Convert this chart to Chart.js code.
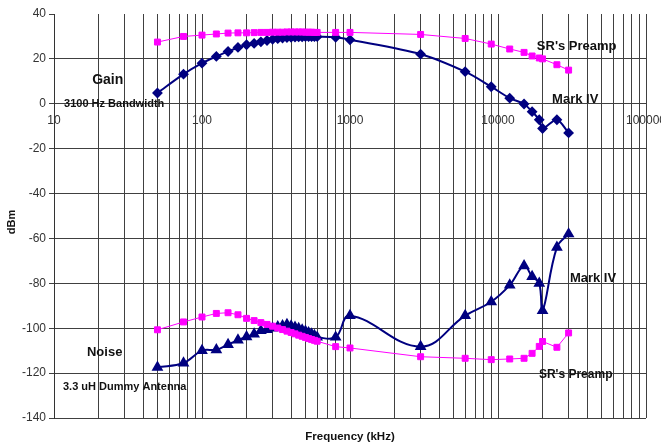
<!DOCTYPE html>
<html>
<head>
<meta charset="utf-8">
<script src="https://cdn.jsdelivr.net/npm/chart.js@4"></script>
<style>
  body { margin: 0; background: #fff; }
  canvas { display: block; }
</style>
</head>
<body>
<canvas id="grafico" width="661" height="445"></canvas>
<script>
// frequencias medidas (kHz)
var freq = [50, 75, 100, 125, 150, 175, 200, 225, 250, 275, 300, 325, 350, 375, 400, 425, 450, 475, 500, 525, 550, 575, 600,
            800, 1000, 3000, 6000, 9000, 12000, 15000, 17000, 19000, 20000, 25000, 30000];

// ganho (dBm)
var gainSR = [27.5, 30.0, 30.6, 31.1, 31.5, 31.6, 31.6, 31.7, 31.8, 31.8, 31.9, 31.9, 31.9, 32.0, 32.0, 32.0, 32.0, 32.0, 31.9, 31.9, 31.9, 31.8, 31.8,
              31.8, 31.8, 30.9, 29.1, 26.6, 24.4, 22.9, 21.3, 20.4, 20.0, 17.4, 15.0];
var gainMk = [4.8, 13.2, 18.1, 21.1, 23.3, 25.1, 26.3, 26.9, 27.6, 28.2, 28.7, 29.0, 29.3, 29.5, 29.6, 29.7, 29.8, 29.8, 29.9, 29.9, 29.9, 29.9, 29.9,
              29.6, 28.5, 22.1, 14.3, 7.6, 2.5, -0.1, -3.5, -7.1, -11.0, -7.1, -13.0];

// ruido (dBm)
var noiseSR = [-100.7, -97.2, -95.0, -93.4, -93.1, -94.0, -95.6, -96.6, -97.5, -98.3, -99.1, -99.9, -100.6, -101.3, -101.9, -102.5, -103.1, -103.6, -104.1, -104.6, -105.0, -105.4, -105.8,
               -108.2, -108.8, -112.7, -113.4, -114.0, -113.7, -113.4, -111.2, -108.1, -105.9, -108.5, -102.1];
var noiseMk = [-117.4, -115.5, -110.0, -109.6, -107.3, -105.3, -103.8, -102.6, -101.1, -100.6, -100.0, -99.4, -98.9, -98.4, -99.0, -99.6, -100.2, -100.8, -101.4, -102.0, -102.6, -103.3, -104.0,
               -104.0, -94.4, -108.2, -94.4, -88.2, -80.8, -72.2, -77.0, -80.0, -92.2, -64.0, -58.0];

// eixos
var xTickLabels = [10, 100, 1000, 10000, 100000];
var yTicks = [-140, -120, -100, -80, -60, -40, -20, 0, 20, 40];

function pontos(vals) {
  return freq.map(function (f, i) { return { x: f, y: vals[i] }; });
}

// linhas de grade do eixo log: 1..9 de cada decada
var xGrid = [];
for (var d = 0; d < xTickLabels.length - 1; d++) {
  for (var m = 1; m <= 9; m++) xGrid.push(xTickLabels[d] * m);
}
xGrid.push(xTickLabels[xTickLabels.length - 1]);

var fonte = "'Liberation Sans', Arial, sans-serif";
var grade = '#404040';

/* textos do grafico */
var notas = [
  { t: 'Gain', x: 18.1, y: 10.6, size: 14 },
  { t: '3100 Hz Bandwidth', x: 11.7, y: -0.1, size: 11 },
  { t: "SR's Preamp", x: 18300, y: 25.7, size: 13 },
  { t: 'Mark IV', x: 23200, y: 2.1, size: 13 },
  { t: 'Mark IV', x: 30600, y: -77.6, size: 13 },
  { t: "SR's Preamp", x: 18900, y: -120.8, size: 12 },
  { t: 'Noise', x: 16.7, y: -111.0, size: 13 },
  { t: '3.3 uH Dummy Antenna', x: 11.5, y: -126.2, size: 11 }
];

var textos = {
  id: 'textos',
  afterDraw: function (chart) {
    var c = chart.ctx, xs = chart.scales.x, ys = chart.scales.y, area = chart.chartArea;
    c.save();
    c.fillStyle = '#111';
    c.textBaseline = 'middle';
    c.textAlign = 'left';
    notas.forEach(function (n) {
      c.font = 'bold ' + n.size + 'px ' + fonte;
      c.fillText(n.t, xs.getPixelForValue(n.x), ys.getPixelForValue(n.y));
    });
    c.font = 'bold 11.5px ' + fonte;
    c.textAlign = 'center';
    c.fillText('Frequency (kHz)', (area.left + area.right) / 2, area.bottom + 19);
    c.translate(12, (area.top + area.bottom) / 2 + 6);
    c.rotate(-Math.PI / 2);
    c.font = 'bold 11px ' + fonte;
    c.fillText('dBm', 0, 0);
    c.restore();
  }
};

var ctx = document.getElementById('grafico').getContext('2d');

var grafico = new Chart(ctx, {
  type: 'line',
  data: {
    datasets: [
      { label: "SR's Preamp gain", data: pontos(gainSR), borderColor: '#ff00ff', backgroundColor: '#ff00ff',
        borderWidth: 1, pointStyle: 'rect', pointRadius: 4.2, tension: 0 },
      { label: "SR's Preamp noise", data: pontos(noiseSR), borderColor: '#ff00ff', backgroundColor: '#ff00ff',
        borderWidth: 1, pointStyle: 'rect', pointRadius: 4.2, tension: 0 },
      { label: 'Mark IV gain', data: pontos(gainMk), borderColor: '#000080', backgroundColor: '#000080',
        borderWidth: 2, pointStyle: 'rectRot', pointRadius: 4, tension: 0.3 },
      { label: 'Mark IV noise', data: pontos(noiseMk), borderColor: '#000080', backgroundColor: '#000080',
        borderWidth: 2, pointStyle: 'triangle', pointRadius: 4.8, tension: 0.4 }
    ]
  },
  options: {
    responsive: false,
    animation: false,
    devicePixelRatio: 1,
    layout: { padding: { left: 0, top: 14, right: 15, bottom: 27 } },
    plugins: { legend: { display: false }, tooltip: { enabled: false } },
    scales: {
      x: {
        type: 'logarithmic',
        position: { y: 0 },
        min: 10,
        max: 100000,
        afterBuildTicks: function (s) { s.ticks = xGrid.map(function (v) { return { value: v }; }); },
        afterFit: function (s) { s.paddingLeft = 0; s.paddingRight = 0; },
        ticks: {
          autoSkip: false, maxRotation: 0, padding: 10, color: '#333',
          font: { family: fonte, size: 12 },
          callback: function (v) { return xTickLabels.indexOf(v) >= 0 ? String(v) : ''; }
        },
        grid: { color: grade, drawTicks: false },
        border: { color: grade }
      },
      y: {
        min: -140,
        max: 40,
        afterBuildTicks: function (s) { s.ticks = yTicks.map(function (v) { return { value: v }; }); },
        afterFit: function (s) { s.width = 54; },
        ticks: { padding: 3, color: '#333', font: { family: fonte, size: 12 } },
        grid: {
          color: function (c) { return c.tick && c.tick.value === 40 ? 'rgba(0,0,0,0)' : grade; },
          tickColor: grade, tickLength: 5
        },
        border: { color: '#333' }
      }
    }
  },
  plugins: [textos]
});
</script>
</body>
</html>
